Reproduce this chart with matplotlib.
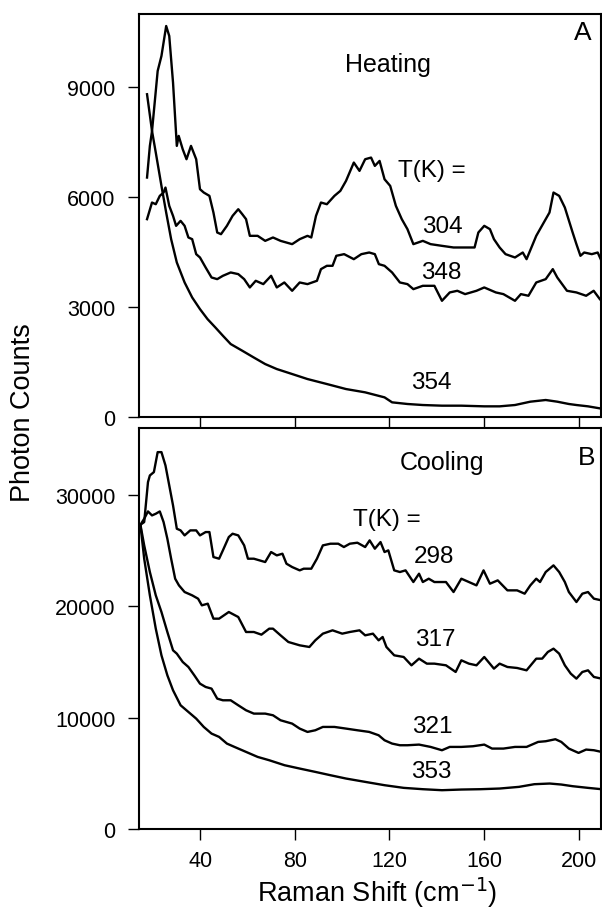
import matplotlib
matplotlib.use("Agg")
import matplotlib.pyplot as plt

plt.rcParams['font.family'] = ['Liberation Sans', 'DejaVu Sans']

# ---------------- Panel A (Heating) ----------------
x304 = [17.4, 18.6, 19.5, 21.9, 23.5, 25.5, 26.8, 28.4, 30.0, 30.8, 32.5, 34.1, 36.0, 38.2, 39.8, 41.4, 43.8,
        45.5, 47.1, 48.7, 51.2, 53.6, 56.0, 57.7, 59.3, 60.9, 64.2, 67.4, 70.7, 73.9, 78.8, 82.0, 85.3, 86.9,
        88.9, 91.0, 93.5, 96.7, 99.2, 101.6, 104.9, 107.3, 109.7, 112.2, 113.8, 115.8, 117.9, 120.3, 122.7,
        125.2, 127.6, 130.1, 134.1, 137.4, 142.2, 147.1, 152.0, 156.0, 157.6, 160.1, 162.5, 164.2, 166.6,
        169.1, 173.1, 176.4, 178.0, 182.1, 185.3, 187.7, 189.4, 191.8, 194.2, 197.5, 199.1, 200.8, 202.4,
        205.6, 208.1, 209.7]
y304 = [6536, 7400, 7800, 9445, 9854, 10672, 10400, 9127, 7400, 7672, 7308, 7036, 7400, 7036, 6218, 6127, 6036,
        5581, 5036, 4990, 5218, 5490, 5672, 5536, 5400, 4945, 4945, 4808, 4900, 4808, 4718, 4854, 4945, 4900,
        5490, 5854, 5808, 6036, 6172, 6445, 6945, 6718, 7036, 7081, 6854, 6990, 6490, 6308, 5763,
        5400, 5127, 4718, 4808, 4718, 4672, 4627, 4627, 4627, 5036, 5218, 5127, 4854, 4627,
        4445, 4354, 4490, 4308, 4945, 5309, 5581, 6127, 6036, 5718, 5036, 4718, 4400, 4490,
        4445, 4490, 4263]

x348 = [17.4, 19.5, 21.1, 22.8, 24.4, 25.2, 26.8, 28.4, 29.7, 31.6, 33.3, 34.9, 36.5, 38.2, 39.8, 42.2, 44.7,
        47.1, 49.5, 52.8, 56.0, 58.5, 60.9, 63.4, 66.6, 69.9, 72.3, 75.5, 78.8, 82.0, 85.3, 89.3, 91.0, 93.5,
        95.9, 97.5, 100.8, 104.9, 108.1, 111.4, 113.8, 115.5, 117.9, 121.1, 124.4, 127.6, 130.1, 134.1, 139.0,
        142.2, 145.5, 148.7, 152.0, 156.8, 160.1, 165.0, 168.2, 173.1, 175.6, 178.8, 182.1, 186.1, 189.1,
        191.0, 195.1, 199.1, 203.2, 206.4, 209.0]
y348 = [5400, 5854, 5808, 6036, 6127, 6263, 5763, 5490, 5218, 5354, 5218, 4900, 4854, 4445, 4354, 4081, 3808,
        3763, 3854, 3945, 3900, 3763, 3536, 3718, 3627, 3854, 3536, 3672, 3445, 3672, 3627, 3718, 4036, 4127,
        4127, 4400, 4445, 4308, 4445, 4490, 4445, 4172, 4127, 3945, 3672, 3627, 3490, 3581, 3581,
        3172, 3400, 3445, 3354, 3445, 3536, 3400, 3354, 3172, 3354, 3309, 3672, 3763, 4036,
        3808, 3445, 3400, 3309, 3445, 3218]

x354 = [17.4, 19.5, 21.1, 23.5, 25.5, 27.6, 30.0, 33.3, 36.5, 39.8, 43.0, 46.3, 49.5, 52.8, 57.7, 62.5, 67.4,
        72.3, 78.8, 85.3, 93.5, 101.6, 109.7, 117.9, 121.1, 127.6, 134.1, 142.2, 150.4, 160.1, 166.6, 173.1,
        179.6, 186.1, 191.0, 195.9, 199.1, 204.0, 209.0]
y354 = [8810, 7809, 7218, 6309, 5581, 4854, 4218, 3672, 3263, 2945, 2672, 2445, 2218, 1991, 1809, 1627, 1445,
        1309, 1173, 1036, 900, 763, 673, 536, 400, 355, 327, 309, 309, 291, 291, 327,
        418, 464, 418, 355, 327, 291, 236]

# ---------------- Panel B (Cooling) ----------------
x298 = [14.6, 16.2, 17.8, 18.6, 20.3, 21.9, 23.5, 25.2, 26.8, 28.4, 30.0, 31.6, 33.3, 35.7, 38.2, 39.8, 42.2,
        43.8, 45.5, 47.9, 49.5, 52.0, 53.6, 56.0, 58.5, 60.1, 62.6, 67.4, 69.9, 72.3, 74.7, 76.4, 78.8, 82.0,
        83.7, 86.9, 89.3, 91.8, 95.0, 98.3, 100.7, 103.2, 106.4, 109.7, 111.6, 113.8, 116.2, 117.9, 119.5,
        122.0, 124.4, 126.8, 130.1, 132.5, 134.1, 136.6, 139.0, 143.9, 147.1, 150.4, 153.6, 156.8, 159.8,
        162.5, 165.8, 169.9, 174.0, 177.2, 179.6, 182.1, 183.7, 186.1, 189.4, 191.8, 194.2, 195.9, 199.1,
        201.6, 204.0, 206.5, 209.7]
y298 = [27315, 27555, 31143, 31741, 32040, 33834, 33834, 32638, 30844, 29050, 26957, 26808, 26359, 26808, 26808,
        26359, 26658, 26658, 24415, 24266, 25014, 26210, 26509, 26359, 25462, 24266, 24266, 23967, 24864, 24564,
        24714, 23817, 23518, 23219, 23369, 23369, 24266, 25462, 25612, 25612, 25313, 25612, 25702, 25313, 25911,
        25163, 25762, 24864, 25014, 23219, 23070, 23219, 22172, 22920, 22172, 22471, 22172, 22172, 21275, 22471,
        22172, 21873, 23219, 22022, 22321, 21424, 21424, 21125, 21873, 22471, 22172, 23070, 23668, 23070, 22172,
        21275, 20378, 21125, 21275, 20677, 20527]

x317 = [14.6, 16.2, 17.8, 19.5, 21.1, 22.8, 24.4, 26.0, 27.6, 29.3, 30.9, 33.3, 36.5, 39.0, 40.6, 43.1, 45.5,
        47.9, 52.0, 56.0, 59.3, 62.6, 65.8, 69.1, 70.7, 73.9, 77.2, 82.0, 86.1, 88.6, 91.8, 95.9, 100.0, 103.2,
        107.3, 109.7, 113.0, 115.4, 117.1, 118.7, 122.0, 126.0, 129.3, 132.5, 135.8, 139.0, 143.9, 148.0, 150.4,
        153.6, 156.8, 160.1, 164.2, 166.6, 169.9, 174.0, 178.0, 182.1, 184.6, 187.0, 189.4, 191.8, 194.2,
        196.7, 199.1, 201.6, 204.0, 206.5, 209.7]
y317 = [27315, 27853, 28511, 28152, 28302, 28511, 27555, 26060, 24266, 22471, 21873, 21275, 20976, 20677, 20079,
        20228, 18883, 18883, 19481, 19032, 17686, 17686, 17447, 17985, 17985, 17387, 16789, 16490, 16340, 16938,
        17537, 17836, 17537, 17686, 17836, 17387, 17537, 16938, 17238, 16340, 15592, 15443, 14695, 15293, 14845,
        14845, 14695, 14097, 15144, 14845, 14695, 15443, 14396, 14845, 14546, 14456, 14246, 15293, 15293, 15891,
        16190, 15742, 14695, 13948, 13499, 14097, 14246, 13649, 13499]

x321 = [14.6, 16.2, 18.6, 21.1, 23.5, 26.0, 28.4, 30.0, 32.5, 34.9, 37.4, 39.8, 42.2, 44.7, 47.1, 49.5, 52.8,
        56.0, 59.3, 62.6, 67.4, 70.7, 73.9, 78.8, 82.0, 85.3, 88.6, 91.8, 96.7, 101.6, 106.4, 111.4, 115.4,
        117.9, 121.1, 124.4, 127.6, 132.5, 137.4, 142.2, 145.5, 150.4, 155.3, 160.1, 163.4, 168.2, 173.1,
        178.0, 182.9, 186.1, 190.2, 192.7, 195.9, 200.0, 203.2, 206.5, 209.7]
y321 = [27315, 25462, 23070, 20976, 19481, 17686, 16041, 15742, 14995, 14546, 13798, 13050, 12751, 12602, 11705,
        11555, 11555, 11107, 10658, 10359, 10359, 10210, 9761, 9462, 9014, 8715, 8864, 9163, 9163, 9014, 8864,
        8715, 8416, 7967, 7668, 7519, 7519, 7578, 7369, 7070, 7369, 7369, 7429, 7578, 7220, 7220, 7369,
        7369, 7818, 7878, 8058, 7818, 7220, 6831, 7130, 7070, 6921]

x353 = [14.6, 16.2, 18.6, 21.1, 23.5, 26.0, 28.4, 31.6, 34.9, 38.2, 41.4, 44.7, 47.9, 51.2, 54.4, 59.3, 64.2,
        69.1, 75.6, 82.0, 88.6, 95.0, 101.6, 109.7, 117.9, 126.0, 134.1, 142.2, 150.4, 158.5, 166.6, 174.8,
        181.3, 187.8, 192.7, 197.5, 204.0, 209.7]
y353 = [27315, 24266, 20976, 17985, 15592, 13798, 12453, 11107, 10509, 9911, 9163, 8565, 8267, 7668, 7369, 6921,
        6472, 6173, 5725, 5426, 5127, 4828, 4530, 4231, 3932, 3693, 3573, 3483, 3543, 3573, 3633, 3783,
        4022, 4082, 3992, 3842, 3693, 3573]

xticks = [40, 80, 120, 160, 200]
yticks_a = [0, 3000, 6000, 9000]
yticks_b = [0, 10000, 20000, 30000]

fig = plt.figure(figsize=(6.02, 9.12), dpi=100)
W, H = 602.0, 912.0
axA = fig.add_axes([139 / W, 1 - 418 / H, 462 / W, 403 / H])
axB = fig.add_axes([139 / W, 1 - 830 / H, 462 / W, 401 / H])

lw = 1.7
for ax in (axA, axB):
    for s in ax.spines.values():
        s.set_linewidth(1.5)
    ax.set_xlim(14, 209.5)
    ax.set_xticks(xticks)
    ax.tick_params(direction='out', length=8, width=1.0, labelsize=15.5)
    ax.tick_params(axis='y', pad=9)
    ax.tick_params(axis='x', pad=7)

axA.plot(x304, y304, color='black', lw=lw)
axA.plot(x348, y348, color='black', lw=lw)
axA.plot(x354, y354, color='black', lw=lw)
axA.set_ylim(0, 11000)
axA.set_yticks(yticks_a)
axA.set_yticklabels([str(v) for v in yticks_a])
axA.tick_params(axis='x', labelbottom=False)

axB.plot(x298, y298, color='black', lw=lw)
axB.plot(x317, y317, color='black', lw=lw)
axB.plot(x321, y321, color='black', lw=lw)
axB.plot(x353, y353, color='black', lw=lw)
axB.set_ylim(0, 36000)
axB.set_yticks(yticks_b)
axB.set_yticklabels([str(v) for v in yticks_b])
axB.set_xticklabels([str(v) for v in xticks])

fs = 17.5
axA.text(201.7, 10500, 'A', fontsize=19, ha='center', va='center')
axA.text(119.5, 9627, 'Heating', fontsize=18, ha='center', va='center')
axA.text(137.9, 6736, 'T(K) =', fontsize=fs, ha='center', va='center')
axA.text(142.5, 5209, '304', fontsize=fs, ha='center', va='center')
axA.text(141.7, 3954, '348', fontsize=fs, ha='center', va='center')
axA.text(137.9, 955, '354', fontsize=fs, ha='center', va='center')

axB.text(203.4, 33400, 'B', fontsize=19, ha='center', va='center')
axB.text(142.1, 32960, 'Cooling', fontsize=18, ha='center', va='center')
axB.text(118.9, 27850, 'T(K) =', fontsize=fs, ha='center', va='center')
axB.text(138.7, 24530, '298', fontsize=fs, ha='center', va='center')
axB.text(139.2, 17090, '317', fontsize=fs, ha='center', va='center')
axB.text(138.3, 9280, '321', fontsize=fs, ha='center', va='center')
axB.text(137.5, 5250, '353', fontsize=fs, ha='center', va='center')

fig.text(23 / W, 1 - 413 / H, 'Photon Counts', fontsize=19.5, rotation=90, ha='center', va='center')
fig.text(377 / W, 1 - 893 / H, 'Raman Shift (cm$^{-1}$)', fontsize=19.5, ha='center', va='center')

fig.savefig('out.png', dpi=100)
